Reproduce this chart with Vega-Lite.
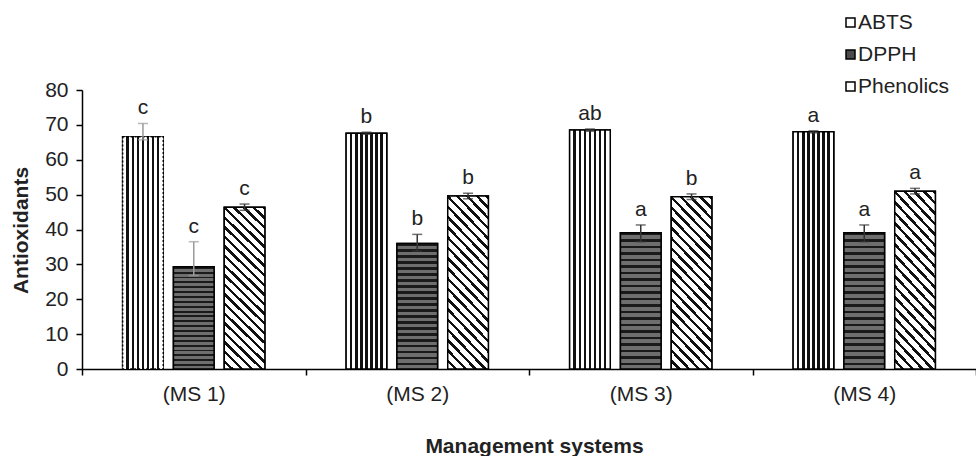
{
  "$schema": "https://vega.github.io/schema/vega-lite/v6.json",
  "width": 894,
  "height": 279,
  "autosize": {"type": "none"},
  "padding": {"left": 82, "top": 90, "right": 0, "bottom": 87},
  "background": "white",
  "config": {
    "font": "Liberation Sans",
    "view": {"stroke": null},
    "axis": {"grid": false, "domainColor": "#000", "tickColor": "#000", "labelColor": "#222", "titleColor": "#222", "labelFont": "Liberation Sans", "titleFont": "Liberation Sans"}
  },
  "data": {
    "values": [
      {"ms": "(MS 1)", "series": "ABTS", "value": 66.6, "lo": 65.7, "hi": 70.4, "sig": "c"},
      {"ms": "(MS 1)", "series": "DPPH", "value": 29.3, "lo": 26.8, "hi": 36.5, "sig": "c"},
      {"ms": "(MS 1)", "series": "Phenolics", "value": 46.4, "lo": 45.5, "hi": 47.3, "sig": "c"},
      {"ms": "(MS 2)", "series": "ABTS", "value": 67.6, "lo": 67.3, "hi": 67.9, "sig": "b"},
      {"ms": "(MS 2)", "series": "DPPH", "value": 36.0, "lo": 33.8, "hi": 38.6, "sig": "b"},
      {"ms": "(MS 2)", "series": "Phenolics", "value": 49.6, "lo": 48.8, "hi": 50.4, "sig": "b"},
      {"ms": "(MS 3)", "series": "ABTS", "value": 68.5, "lo": 68.2, "hi": 68.8, "sig": "ab"},
      {"ms": "(MS 3)", "series": "DPPH", "value": 39.1, "lo": 36.5, "hi": 41.3, "sig": "a"},
      {"ms": "(MS 3)", "series": "Phenolics", "value": 49.4, "lo": 48.6, "hi": 50.2, "sig": "b"},
      {"ms": "(MS 4)", "series": "ABTS", "value": 68.0, "lo": 67.7, "hi": 68.3, "sig": "a"},
      {"ms": "(MS 4)", "series": "DPPH", "value": 39.1, "lo": 36.5, "hi": 41.3, "sig": "a"},
      {"ms": "(MS 4)", "series": "Phenolics", "value": 51.0, "lo": 50.2, "hi": 51.8, "sig": "a"}
    ]
  },
  "encoding": {
    "x": {
      "field": "ms", "type": "nominal", "sort": null,
      "scale": {"paddingInner": 0, "paddingOuter": 0},
      "title": "Management systems",
      "axis": {"labelAngle": 0, "labelFontSize": 21, "tickSize": 6, "tickBand": "extent", "labelPadding": 8, "domainWidth": 1.5, "tickWidth": 1.5,
        "titleFontSize": 21, "titleFontWeight": "bold", "titleBaseline": "alphabetic", "titleY": 83, "titleX": 452}
    },
    "xOffset": {"field": "series", "type": "nominal", "sort": ["ABTS", "DPPH", "Phenolics"], "scale": {"paddingInner": 0.2, "paddingOuter": 0.8}}
  },
  "layer": [
    {
      "mark": {"type": "bar", "strokeWidth": 1.5, "stroke": "#000"},
      "encoding": {
        "y": {"field": "value", "type": "quantitative", "scale": {"domain": [0, 80]}, "title": "Antioxidants",
          "axis": {"values": [0, 10, 20, 30, 40, 50, 60, 70, 80], "labelOverlap": false, "labelFontSize": 21, "tickSize": 6, "labelPadding": 8, "domainWidth": 1.5, "tickWidth": 1.5,
            "titleFontSize": 21, "titleFontWeight": "bold", "titleAngle": -90, "titleBaseline": "alphabetic", "titleAlign": "center", "titleX": -55, "titleY": 140}},
        "fill": {"field": "series", "type": "nominal", "sort": ["ABTS", "DPPH", "Phenolics"], "scale": {"range": ["#ffffff", "#4a4a4a", "#ffffff"]},
          "legend": {"title": null, "orient": "none", "legendX": 758, "legendY": -78, "symbolType": "square", "symbolSize": 81, "symbolStrokeWidth": 1.5, "symbolStrokeColor": "#000",
            "labelFontSize": 21, "labelColor": "#222", "labelOffset": -3, "rowPadding": 10, "padding": 0}
        }
      }
    },
    {
      "mark": {"type": "bar", "strokeWidth": 1.5, "stroke": "#000"},
      "encoding": {
        "y": {"field": "value", "type": "quantitative", "scale": {"domain": [0, 80]}, "title": "Antioxidants",
          "axis": {"values": [0, 10, 20, 30, 40, 50, 60, 70, 80], "labelOverlap": false, "labelFontSize": 21, "tickSize": 6, "labelPadding": 8, "domainWidth": 1.5, "tickWidth": 1.5,
            "titleFontSize": 21, "titleFontWeight": "bold", "titleAngle": -90, "titleBaseline": "alphabetic", "titleAlign": "center", "titleX": -55, "titleY": 140}},
        "strokeDash": {"condition": {"test": "datum.ms === '(MS 1)' && datum.series === 'ABTS'", "value": [2, 2]}, "value": [1, 0]},
        "fill": {
          "condition": [
            {"test": "datum.series === 'ABTS'", "value": {"gradient": "linear", "x1": 0, "y1": 0, "x2": 1, "y2": 0, "stops": [
              {"offset": 0, "color": "#ffffff"}, {"offset": 0.095, "color": "#ffffff"}, {"offset": 0.095, "color": "#111111"}, {"offset": 0.155, "color": "#111111"},
              {"offset": 0.155, "color": "#ffffff"}, {"offset": 0.22, "color": "#ffffff"}, {"offset": 0.22, "color": "#111111"}, {"offset": 0.28, "color": "#111111"},
              {"offset": 0.28, "color": "#ffffff"}, {"offset": 0.345, "color": "#ffffff"}, {"offset": 0.345, "color": "#111111"}, {"offset": 0.405, "color": "#111111"},
              {"offset": 0.405, "color": "#ffffff"}, {"offset": 0.47, "color": "#ffffff"}, {"offset": 0.47, "color": "#111111"}, {"offset": 0.53, "color": "#111111"},
              {"offset": 0.53, "color": "#ffffff"}, {"offset": 0.595, "color": "#ffffff"}, {"offset": 0.595, "color": "#111111"}, {"offset": 0.655, "color": "#111111"},
              {"offset": 0.655, "color": "#ffffff"}, {"offset": 0.72, "color": "#ffffff"}, {"offset": 0.72, "color": "#111111"}, {"offset": 0.78, "color": "#111111"},
              {"offset": 0.78, "color": "#ffffff"}, {"offset": 0.845, "color": "#ffffff"}, {"offset": 0.845, "color": "#111111"}, {"offset": 0.905, "color": "#111111"},
              {"offset": 0.905, "color": "#ffffff"}, {"offset": 1, "color": "#ffffff"}
            ]}},
            {"test": "datum.series === 'DPPH'", "value": {"gradient": "linear", "x1": 0, "y1": 0, "x2": 0, "y2": 1, "stops": [
              {"offset": 0, "color": "#1a1a1a"}, {"offset": 0.019, "color": "#1a1a1a"}, {"offset": 0.019, "color": "#6e6e6e"}, {"offset": 0.0476, "color": "#6e6e6e"},
              {"offset": 0.0476, "color": "#1a1a1a"}, {"offset": 0.0667, "color": "#1a1a1a"}, {"offset": 0.0667, "color": "#6e6e6e"}, {"offset": 0.0952, "color": "#6e6e6e"},
              {"offset": 0.0952, "color": "#1a1a1a"}, {"offset": 0.1143, "color": "#1a1a1a"}, {"offset": 0.1143, "color": "#6e6e6e"}, {"offset": 0.1429, "color": "#6e6e6e"},
              {"offset": 0.1429, "color": "#1a1a1a"}, {"offset": 0.1619, "color": "#1a1a1a"}, {"offset": 0.1619, "color": "#6e6e6e"}, {"offset": 0.1905, "color": "#6e6e6e"},
              {"offset": 0.1905, "color": "#1a1a1a"}, {"offset": 0.2095, "color": "#1a1a1a"}, {"offset": 0.2095, "color": "#6e6e6e"}, {"offset": 0.2381, "color": "#6e6e6e"},
              {"offset": 0.2381, "color": "#1a1a1a"}, {"offset": 0.2571, "color": "#1a1a1a"}, {"offset": 0.2571, "color": "#6e6e6e"}, {"offset": 0.2857, "color": "#6e6e6e"},
              {"offset": 0.2857, "color": "#1a1a1a"}, {"offset": 0.3048, "color": "#1a1a1a"}, {"offset": 0.3048, "color": "#6e6e6e"}, {"offset": 0.3333, "color": "#6e6e6e"},
              {"offset": 0.3333, "color": "#1a1a1a"}, {"offset": 0.3524, "color": "#1a1a1a"}, {"offset": 0.3524, "color": "#6e6e6e"}, {"offset": 0.381, "color": "#6e6e6e"},
              {"offset": 0.381, "color": "#1a1a1a"}, {"offset": 0.4, "color": "#1a1a1a"}, {"offset": 0.4, "color": "#6e6e6e"}, {"offset": 0.4286, "color": "#6e6e6e"},
              {"offset": 0.4286, "color": "#1a1a1a"}, {"offset": 0.4476, "color": "#1a1a1a"}, {"offset": 0.4476, "color": "#6e6e6e"}, {"offset": 0.4762, "color": "#6e6e6e"},
              {"offset": 0.4762, "color": "#1a1a1a"}, {"offset": 0.4952, "color": "#1a1a1a"}, {"offset": 0.4952, "color": "#6e6e6e"}, {"offset": 0.5238, "color": "#6e6e6e"},
              {"offset": 0.5238, "color": "#1a1a1a"}, {"offset": 0.5429, "color": "#1a1a1a"}, {"offset": 0.5429, "color": "#6e6e6e"}, {"offset": 0.5714, "color": "#6e6e6e"},
              {"offset": 0.5714, "color": "#1a1a1a"}, {"offset": 0.5905, "color": "#1a1a1a"}, {"offset": 0.5905, "color": "#6e6e6e"}, {"offset": 0.619, "color": "#6e6e6e"},
              {"offset": 0.619, "color": "#1a1a1a"}, {"offset": 0.6381, "color": "#1a1a1a"}, {"offset": 0.6381, "color": "#6e6e6e"}, {"offset": 0.6667, "color": "#6e6e6e"},
              {"offset": 0.6667, "color": "#1a1a1a"}, {"offset": 0.6857, "color": "#1a1a1a"}, {"offset": 0.6857, "color": "#6e6e6e"}, {"offset": 0.7143, "color": "#6e6e6e"},
              {"offset": 0.7143, "color": "#1a1a1a"}, {"offset": 0.7333, "color": "#1a1a1a"}, {"offset": 0.7333, "color": "#6e6e6e"}, {"offset": 0.7619, "color": "#6e6e6e"},
              {"offset": 0.7619, "color": "#1a1a1a"}, {"offset": 0.781, "color": "#1a1a1a"}, {"offset": 0.781, "color": "#6e6e6e"}, {"offset": 0.8095, "color": "#6e6e6e"},
              {"offset": 0.8095, "color": "#1a1a1a"}, {"offset": 0.8286, "color": "#1a1a1a"}, {"offset": 0.8286, "color": "#6e6e6e"}, {"offset": 0.8571, "color": "#6e6e6e"},
              {"offset": 0.8571, "color": "#1a1a1a"}, {"offset": 0.8762, "color": "#1a1a1a"}, {"offset": 0.8762, "color": "#6e6e6e"}, {"offset": 0.9048, "color": "#6e6e6e"},
              {"offset": 0.9048, "color": "#1a1a1a"}, {"offset": 0.9238, "color": "#1a1a1a"}, {"offset": 0.9238, "color": "#6e6e6e"}, {"offset": 0.9524, "color": "#6e6e6e"},
              {"offset": 0.9524, "color": "#1a1a1a"}, {"offset": 0.9714, "color": "#1a1a1a"}, {"offset": 0.9714, "color": "#6e6e6e"}, {"offset": 1, "color": "#6e6e6e"}
            ]}}
          ],
          "value": {"gradient": "linear", "x1": 0, "y1": 1, "x2": 0.288, "y2": -0.175, "stops": [
            {"offset": 0, "color": "#ffffff"}, {"offset": 0.031, "color": "#ffffff"}, {"offset": 0.031, "color": "#111111"}, {"offset": 0.0476, "color": "#111111"},
            {"offset": 0.0476, "color": "#ffffff"}, {"offset": 0.0786, "color": "#ffffff"}, {"offset": 0.0786, "color": "#111111"}, {"offset": 0.0952, "color": "#111111"},
            {"offset": 0.0952, "color": "#ffffff"}, {"offset": 0.1262, "color": "#ffffff"}, {"offset": 0.1262, "color": "#111111"}, {"offset": 0.1429, "color": "#111111"},
            {"offset": 0.1429, "color": "#ffffff"}, {"offset": 0.1738, "color": "#ffffff"}, {"offset": 0.1738, "color": "#111111"}, {"offset": 0.1905, "color": "#111111"},
            {"offset": 0.1905, "color": "#ffffff"}, {"offset": 0.2214, "color": "#ffffff"}, {"offset": 0.2214, "color": "#111111"}, {"offset": 0.2381, "color": "#111111"},
            {"offset": 0.2381, "color": "#ffffff"}, {"offset": 0.269, "color": "#ffffff"}, {"offset": 0.269, "color": "#111111"}, {"offset": 0.2857, "color": "#111111"},
            {"offset": 0.2857, "color": "#ffffff"}, {"offset": 0.3167, "color": "#ffffff"}, {"offset": 0.3167, "color": "#111111"}, {"offset": 0.3333, "color": "#111111"},
            {"offset": 0.3333, "color": "#ffffff"}, {"offset": 0.3643, "color": "#ffffff"}, {"offset": 0.3643, "color": "#111111"}, {"offset": 0.381, "color": "#111111"},
            {"offset": 0.381, "color": "#ffffff"}, {"offset": 0.4119, "color": "#ffffff"}, {"offset": 0.4119, "color": "#111111"}, {"offset": 0.4286, "color": "#111111"},
            {"offset": 0.4286, "color": "#ffffff"}, {"offset": 0.4595, "color": "#ffffff"}, {"offset": 0.4595, "color": "#111111"}, {"offset": 0.4762, "color": "#111111"},
            {"offset": 0.4762, "color": "#ffffff"}, {"offset": 0.5071, "color": "#ffffff"}, {"offset": 0.5071, "color": "#111111"}, {"offset": 0.5238, "color": "#111111"},
            {"offset": 0.5238, "color": "#ffffff"}, {"offset": 0.5548, "color": "#ffffff"}, {"offset": 0.5548, "color": "#111111"}, {"offset": 0.5714, "color": "#111111"},
            {"offset": 0.5714, "color": "#ffffff"}, {"offset": 0.6024, "color": "#ffffff"}, {"offset": 0.6024, "color": "#111111"}, {"offset": 0.619, "color": "#111111"},
            {"offset": 0.619, "color": "#ffffff"}, {"offset": 0.65, "color": "#ffffff"}, {"offset": 0.65, "color": "#111111"}, {"offset": 0.6667, "color": "#111111"},
            {"offset": 0.6667, "color": "#ffffff"}, {"offset": 0.6976, "color": "#ffffff"}, {"offset": 0.6976, "color": "#111111"}, {"offset": 0.7143, "color": "#111111"},
            {"offset": 0.7143, "color": "#ffffff"}, {"offset": 0.7452, "color": "#ffffff"}, {"offset": 0.7452, "color": "#111111"}, {"offset": 0.7619, "color": "#111111"},
            {"offset": 0.7619, "color": "#ffffff"}, {"offset": 0.7929, "color": "#ffffff"}, {"offset": 0.7929, "color": "#111111"}, {"offset": 0.8095, "color": "#111111"},
            {"offset": 0.8095, "color": "#ffffff"}, {"offset": 0.8405, "color": "#ffffff"}, {"offset": 0.8405, "color": "#111111"}, {"offset": 0.8571, "color": "#111111"},
            {"offset": 0.8571, "color": "#ffffff"}, {"offset": 0.8881, "color": "#ffffff"}, {"offset": 0.8881, "color": "#111111"}, {"offset": 0.9048, "color": "#111111"},
            {"offset": 0.9048, "color": "#ffffff"}, {"offset": 0.9357, "color": "#ffffff"}, {"offset": 0.9357, "color": "#111111"}, {"offset": 0.9524, "color": "#111111"},
            {"offset": 0.9524, "color": "#ffffff"}, {"offset": 0.9833, "color": "#ffffff"}, {"offset": 0.9833, "color": "#111111"}, {"offset": 1, "color": "#111111"}
          ]}
        }
      }
    },
    {
      "mark": {"type": "rule", "strokeWidth": 1.5},
      "encoding": {
        "y": {"field": "lo", "type": "quantitative", "scale": {"domain": [0, 80]}, "title": "Antioxidants",
          "axis": {"values": [0, 10, 20, 30, 40, 50, 60, 70, 80], "labelOverlap": false, "labelFontSize": 21, "tickSize": 6, "labelPadding": 8, "domainWidth": 1.5, "tickWidth": 1.5,
            "titleFontSize": 21, "titleFontWeight": "bold", "titleAngle": -90, "titleBaseline": "alphabetic", "titleAlign": "center", "titleX": -55, "titleY": 140}},
        "y2": {"field": "hi"},
        "color": {"condition": {"test": "datum.ms === '(MS 1)' && datum.series !== 'Phenolics'", "value": "#9a9a9a"}, "value": "#333333"}
      }
    },
    {
      "mark": {"type": "tick", "orient": "horizontal", "size": 10, "thickness": 1.5},
      "encoding": {
        "y": {"field": "lo", "type": "quantitative", "scale": {"domain": [0, 80]}, "title": "Antioxidants",
          "axis": {"values": [0, 10, 20, 30, 40, 50, 60, 70, 80], "labelOverlap": false, "labelFontSize": 21, "tickSize": 6, "labelPadding": 8, "domainWidth": 1.5, "tickWidth": 1.5,
            "titleFontSize": 21, "titleFontWeight": "bold", "titleAngle": -90, "titleBaseline": "alphabetic", "titleAlign": "center", "titleX": -55, "titleY": 140}},
        "color": {"condition": {"test": "datum.ms === '(MS 1)' && datum.series !== 'Phenolics'", "value": "#9a9a9a"}, "value": "#333333"}
      }
    },
    {
      "mark": {"type": "tick", "orient": "horizontal", "size": 10, "thickness": 1.5},
      "encoding": {
        "y": {"field": "hi", "type": "quantitative", "scale": {"domain": [0, 80]}, "title": "Antioxidants",
          "axis": {"values": [0, 10, 20, 30, 40, 50, 60, 70, 80], "labelOverlap": false, "labelFontSize": 21, "tickSize": 6, "labelPadding": 8, "domainWidth": 1.5, "tickWidth": 1.5,
            "titleFontSize": 21, "titleFontWeight": "bold", "titleAngle": -90, "titleBaseline": "alphabetic", "titleAlign": "center", "titleX": -55, "titleY": 140}},
        "color": {"condition": {"test": "datum.ms === '(MS 1)' && datum.series !== 'Phenolics'", "value": "#9a9a9a"}, "value": "#333333"}
      }
    },
    {
      "mark": {"type": "text", "dy": -9, "baseline": "alphabetic", "fontSize": 21, "color": "#222222"},
      "encoding": {
        "y": {"field": "hi", "type": "quantitative", "scale": {"domain": [0, 80]}, "title": "Antioxidants",
          "axis": {"values": [0, 10, 20, 30, 40, 50, 60, 70, 80], "labelOverlap": false, "labelFontSize": 21, "tickSize": 6, "labelPadding": 8, "domainWidth": 1.5, "tickWidth": 1.5,
            "titleFontSize": 21, "titleFontWeight": "bold", "titleAngle": -90, "titleBaseline": "alphabetic", "titleAlign": "center", "titleX": -55, "titleY": 140}},
        "text": {"field": "sig"}
      }
    }
  ]
}
